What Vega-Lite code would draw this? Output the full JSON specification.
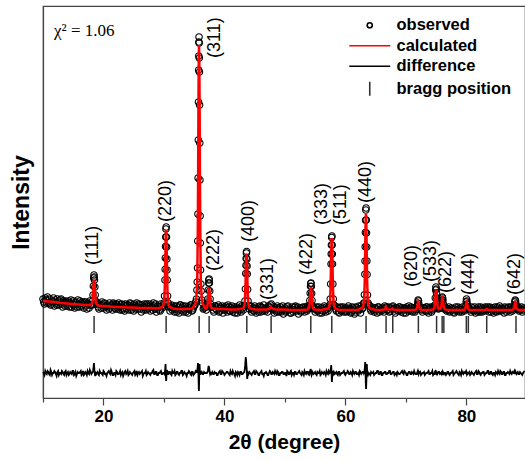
{
"$schema": "https://vega.github.io/schema/vega-lite/v6.json",
"width": 482, "height": 392,
"autosize": {"type": "none"},
"padding": {"left": 43, "top": 6, "right": 0, "bottom": 63},
"background": "white",
"config": {"view": {"stroke": "#444", "strokeWidth": 1.2}, "axis": {"grid": false, "domainColor": "#444", "domainWidth": 1.2, "tickColor": "#444", "tickWidth": 1.2, "labelColor": "black", "titleColor": "black", "labelFont": "Liberation Sans", "titleFont": "Liberation Sans"}},
"datasets": {
"scan": [
{"x":10,"o":99,"d":26},{"x":10.25,"o":94,"d":23},{"x":10.5,"o":98,"d":25},{"x":10.75,"o":101,"d":27},
{"x":11,"o":95,"d":24},{"x":11.25,"o":93,"d":28},{"x":11.5,"o":97,"d":23},{"x":11.75,"o":100,"d":25},
{"x":12,"o":98,"d":26},{"x":12.25,"o":93,"d":22},{"x":12.5,"o":97,"d":27},{"x":12.75,"o":95,"d":25},
{"x":13,"o":99,"d":24},{"x":13.25,"o":91,"d":26},{"x":13.5,"o":96,"d":23},{"x":13.75,"o":97,"d":27},
{"x":14,"o":92,"d":25},{"x":14.25,"o":97,"d":23},{"x":14.5,"o":95,"d":26},{"x":14.75,"o":91,"d":24},
{"x":15,"o":97,"d":27},{"x":15.25,"o":90,"d":24},{"x":15.5,"o":95,"d":22},{"x":15.75,"o":98,"d":26},
{"x":16,"o":91,"d":25},{"x":16.25,"o":95,"d":27},{"x":16.5,"o":96,"d":24},{"x":16.75,"o":90,"d":23},
{"x":17,"o":96,"d":26},{"x":17.25,"o":89,"d":23},{"x":17.5,"o":94,"d":25},{"x":17.75,"o":97,"d":28},
{"x":18,"o":93,"d":24},{"x":18.1,"o":93,"d":25},{"x":18.2,"o":97,"d":26},{"x":18.27,"o":103,"d":27},{"x":18.33,"o":112,"d":29},{"x":18.39,"o":120,"d":33},{"x":18.43,"o":123,"d":35},{"x":18.47,"o":121,"d":31},{"x":18.51,"o":118,"d":27},{"x":18.57,"o":111,"d":24},{"x":18.63,"o":103,"d":22},{"x":18.7,"o":97,"d":25},{"x":18.8,"o":94,"d":24},
{"x":19,"o":95,"d":26},{"x":19.25,"o":89,"d":23},{"x":19.5,"o":93,"d":25},{"x":19.75,"o":96,"d":24},
{"x":20,"o":90,"d":27},{"x":20.25,"o":94,"d":24},{"x":20.5,"o":88,"d":22},{"x":20.75,"o":93,"d":26},
{"x":21,"o":95,"d":25},{"x":21.25,"o":92,"d":28},{"x":21.5,"o":88,"d":23},{"x":21.75,"o":94,"d":25},
{"x":22,"o":89,"d":23},{"x":22.25,"o":93,"d":26},{"x":22.5,"o":95,"d":24},{"x":22.75,"o":88,"d":27},
{"x":23,"o":94,"d":25},{"x":23.25,"o":90,"d":22},{"x":23.5,"o":87,"d":26},{"x":23.75,"o":92,"d":24},
{"x":24,"o":93,"d":27},{"x":24.25,"o":88,"d":24},{"x":24.5,"o":94,"d":25},{"x":24.75,"o":91,"d":23},
{"x":25,"o":87,"d":26},{"x":25.25,"o":92,"d":23},{"x":25.5,"o":95,"d":27},{"x":25.75,"o":89,"d":25},
{"x":26,"o":93,"d":24},{"x":26.25,"o":86,"d":26},{"x":26.5,"o":91,"d":22},{"x":26.75,"o":94,"d":25},
{"x":27,"o":88,"d":27},{"x":27.25,"o":92,"d":24},{"x":27.5,"o":94,"d":25},{"x":27.75,"o":87,"d":23},
{"x":28,"o":91,"d":25},{"x":28.25,"o":95,"d":28},{"x":28.5,"o":89,"d":24},{"x":28.75,"o":86,"d":26},
{"x":29,"o":92,"d":23},{"x":29.25,"o":88,"d":25},{"x":29.5,"o":94,"d":27},{"x":29.75,"o":90,"d":24},
{"x":30,"o":95,"d":25},{"x":30.1,"o":102,"d":24},{"x":30.17,"o":118,"d":27},{"x":30.2,"o":128.6,"d":28},{"x":30.23,"o":140,"d":31},{"x":30.26,"o":151.5,"d":34},{"x":30.29,"o":161,"d":29},{"x":30.33,"o":169,"d":20},{"x":30.37,"o":171,"d":17},{"x":30.41,"o":161,"d":22},{"x":30.44,"o":151,"d":28},{"x":30.47,"o":139,"d":26},{"x":30.5,"o":128,"d":24},{"x":30.53,"o":118,"d":25},{"x":30.6,"o":102,"d":26},{"x":30.7,"o":95,"d":24},
{"x":30.75,"o":91,"d":24},
{"x":31,"o":87,"d":26},{"x":31.25,"o":93,"d":23},{"x":31.5,"o":90,"d":25},{"x":31.75,"o":86,"d":27},
{"x":32,"o":92,"d":24},{"x":32.25,"o":88,"d":26},{"x":32.5,"o":85,"d":23},{"x":32.75,"o":93,"d":25},
{"x":33,"o":90,"d":27},{"x":33.25,"o":86,"d":24},{"x":33.5,"o":92,"d":25},{"x":33.75,"o":89,"d":22},
{"x":34,"o":85,"d":25},{"x":34.25,"o":91,"d":26},{"x":34.5,"o":93,"d":23},{"x":34.75,"o":88,"d":26},
{"x":35,"o":92,"d":24},{"x":35.25,"o":96,"d":27},
{"x":35.45,"o":108,"d":26},{"x":35.5,"o":116,"d":27},{"x":35.55,"o":130,"d":29},{"x":35.59,"o":157,"d":32},{"x":35.62,"o":184,"d":35},{"x":35.65,"o":220,"d":33},{"x":35.68,"o":258,"d":28},{"x":35.71,"o":296,"d":22},{"x":35.74,"o":328,"d":15},{"x":35.76,"o":342,"d":9},{"x":35.78,"o":356,"d":7},{"x":35.8,"o":361,"d":12},{"x":35.82,"o":355,"d":18},{"x":35.84,"o":340,"d":27},{"x":35.86,"o":326,"d":32},{"x":35.89,"o":293,"d":34},{"x":35.92,"o":255,"d":30},{"x":35.95,"o":218,"d":26},{"x":35.98,"o":182,"d":23},{"x":36.01,"o":155,"d":25},{"x":36.05,"o":128,"d":27},{"x":36.1,"o":114,"d":24},{"x":36.15,"o":107,"d":25},
{"x":36.25,"o":98,"d":26},{"x":36.5,"o":89,"d":24},{"x":36.75,"o":91,"d":25},{"x":37,"o":88,"d":25},
{"x":37.1,"o":91,"d":25},{"x":37.2,"o":94,"d":26},{"x":37.27,"o":99,"d":27},{"x":37.33,"o":108,"d":30},{"x":37.39,"o":115,"d":32},{"x":37.43,"o":118,"d":31},{"x":37.47,"o":119,"d":30},{"x":37.51,"o":115,"d":28},{"x":37.57,"o":107,"d":26},{"x":37.63,"o":99,"d":24},{"x":37.7,"o":94,"d":25},{"x":37.8,"o":91,"d":24},
{"x":38,"o":91,"d":26},{"x":38.25,"o":86,"d":24},{"x":38.5,"o":92,"d":25},{"x":38.75,"o":88,"d":23},
{"x":39,"o":93,"d":25},{"x":39.25,"o":87,"d":27},{"x":39.5,"o":90,"d":24},{"x":39.75,"o":85,"d":26},
{"x":40,"o":90,"d":23},{"x":40.25,"o":92,"d":25},{"x":40.5,"o":86,"d":26},{"x":40.75,"o":91,"d":24},
{"x":41,"o":87,"d":27},{"x":41.25,"o":92,"d":24},{"x":41.5,"o":89,"d":25},{"x":41.75,"o":85,"d":22},
{"x":42,"o":91,"d":25},{"x":42.25,"o":88,"d":26},{"x":42.5,"o":93,"d":23},{"x":42.75,"o":86,"d":26},
{"x":43,"o":90,"d":24},{"x":43.25,"o":91,"d":26},
{"x":43.3,"o":92.5,"d":26},{"x":43.4,"o":97,"d":30},{"x":43.47,"o":109,"d":36},{"x":43.53,"o":124.5,"d":41},{"x":43.56,"o":132.6,"d":39},{"x":43.59,"o":139.5,"d":37},{"x":43.63,"o":145,"d":33},{"x":43.67,"o":146.5,"d":30},{"x":43.71,"o":139,"d":27},{"x":43.74,"o":132,"d":22},{"x":43.77,"o":124,"d":19},{"x":43.83,"o":108.5,"d":23},{"x":43.9,"o":97,"d":25},{"x":44,"o":92.5,"d":24},
{"x":44.25,"o":91,"d":25},{"x":44.5,"o":86,"d":23},{"x":44.75,"o":90,"d":26},
{"x":45,"o":92,"d":24},{"x":45.25,"o":85,"d":27},{"x":45.5,"o":89,"d":25},{"x":45.75,"o":91,"d":23},
{"x":46,"o":86,"d":26},{"x":46.25,"o":90,"d":24},{"x":46.5,"o":93,"d":22},{"x":46.75,"o":87,"d":25},
{"x":47,"o":89,"d":25},{"x":47.25,"o":92,"d":23},{"x":47.5,"o":91,"d":27},{"x":47.75,"o":94,"d":24},
{"x":48,"o":88,"d":26},{"x":48.25,"o":85,"d":24},{"x":48.5,"o":90,"d":25},{"x":48.75,"o":92,"d":27},
{"x":49,"o":86,"d":23},{"x":49.25,"o":91,"d":25},{"x":49.5,"o":88,"d":26},{"x":49.75,"o":84,"d":24},
{"x":50,"o":90,"d":25},{"x":50.25,"o":87,"d":22},{"x":50.5,"o":92,"d":26},{"x":50.75,"o":89,"d":24},
{"x":51,"o":85,"d":27},{"x":51.25,"o":91,"d":25},{"x":51.5,"o":88,"d":23},{"x":51.75,"o":92,"d":26},
{"x":52,"o":89,"d":24},{"x":52.25,"o":84,"d":26},{"x":52.5,"o":90,"d":25},{"x":52.75,"o":87,"d":23},
{"x":53,"o":91,"d":25},{"x":53.25,"o":86,"d":27},{"x":53.5,"o":89,"d":24},{"x":53.75,"o":92,"d":26},
{"x":53.95,"o":90,"d":25},{"x":54.05,"o":92,"d":24},{"x":54.12,"o":97.5,"d":27},{"x":54.18,"o":104.7,"d":26},{"x":54.24,"o":111.8,"d":29},{"x":54.28,"o":114.5,"d":28},{"x":54.32,"o":115,"d":27},{"x":54.36,"o":111.5,"d":25},{"x":54.42,"o":104.5,"d":23},{"x":54.48,"o":97.5,"d":24},{"x":54.55,"o":92,"d":26},{"x":54.65,"o":90,"d":25},
{"x":54.75,"o":89,"d":24},
{"x":55,"o":86,"d":26},{"x":55.25,"o":91,"d":23},{"x":55.5,"o":88,"d":25},{"x":55.75,"o":85,"d":27},
{"x":56,"o":90,"d":24},{"x":56.25,"o":87,"d":25},{"x":56.5,"o":92,"d":26},{"x":56.75,"o":86,"d":23},
{"x":57,"o":89,"d":25},{"x":57.25,"o":91,"d":27},
{"x":57.4,"o":93,"d":25},{"x":57.5,"o":99,"d":26},{"x":57.57,"o":114,"d":28},{"x":57.63,"o":134,"d":31},{"x":57.66,"o":144,"d":33},{"x":57.69,"o":153,"d":28},{"x":57.73,"o":160.5,"d":22},{"x":57.77,"o":162,"d":16},{"x":57.81,"o":153,"d":20},{"x":57.84,"o":144,"d":26},{"x":57.87,"o":134,"d":27},{"x":57.93,"o":114,"d":25},{"x":58,"o":99,"d":24},{"x":58.1,"o":93,"d":26},
{"x":58.25,"o":92,"d":24},{"x":58.5,"o":87,"d":26},{"x":58.75,"o":90,"d":23},
{"x":59,"o":85,"d":26},{"x":59.25,"o":91,"d":24},{"x":59.5,"o":88,"d":25},{"x":59.75,"o":86,"d":27},
{"x":60,"o":90,"d":23},{"x":60.25,"o":87,"d":25},{"x":60.5,"o":92,"d":26},{"x":60.75,"o":89,"d":24},
{"x":61,"o":86,"d":25},{"x":61.25,"o":90,"d":27},{"x":61.5,"o":84,"d":24},{"x":61.75,"o":91,"d":26},
{"x":62,"o":88,"d":24},{"x":62.25,"o":92,"d":23},{"x":62.5,"o":85,"d":26},{"x":62.75,"o":89,"d":25},
{"x":63,"o":94,"d":26},
{"x":63.05,"o":95,"d":25},{"x":63.15,"o":103.3,"d":27},{"x":63.22,"o":123.7,"d":30},{"x":63.25,"o":137,"d":33},{"x":63.28,"o":151.2,"d":36},{"x":63.31,"o":165.5,"d":31},{"x":63.34,"o":177.8,"d":24},{"x":63.38,"o":188,"d":14},{"x":63.42,"o":190,"d":9},{"x":63.46,"o":178,"d":15},{"x":63.49,"o":165,"d":22},{"x":63.52,"o":151,"d":30},{"x":63.55,"o":137,"d":34},{"x":63.58,"o":123.5,"d":29},{"x":63.65,"o":103,"d":25},{"x":63.75,"o":95,"d":23},
{"x":64,"o":92,"d":24},{"x":64.25,"o":87,"d":26},{"x":64.5,"o":89,"d":25},{"x":64.75,"o":86,"d":23},
{"x":65,"o":90,"d":25},{"x":65.25,"o":85,"d":27},{"x":65.5,"o":91,"d":24},{"x":65.75,"o":88,"d":26},
{"x":66,"o":87,"d":23},{"x":66.25,"o":89,"d":25},{"x":66.5,"o":92,"d":26},{"x":66.75,"o":91,"d":24},
{"x":67,"o":88,"d":25},{"x":67.25,"o":86,"d":27},{"x":67.5,"o":90,"d":24},{"x":67.75,"o":91,"d":25},
{"x":68,"o":89,"d":26},{"x":68.25,"o":85,"d":24},{"x":68.5,"o":90,"d":23},{"x":68.75,"o":87,"d":25},
{"x":69,"o":91,"d":24},{"x":69.25,"o":86,"d":26},{"x":69.5,"o":88,"d":25},{"x":69.75,"o":90,"d":27},
{"x":70,"o":85,"d":25},{"x":70.25,"o":89,"d":23},{"x":70.5,"o":92,"d":26},{"x":70.75,"o":87,"d":24},
{"x":71,"o":90,"d":26},{"x":71.25,"o":88,"d":24},{"x":71.5,"o":86,"d":25},
{"x":71.8,"o":89,"d":24},{"x":71.9,"o":92,"d":26},{"x":71.97,"o":95,"d":27},{"x":72.03,"o":98,"d":25},{"x":72.09,"o":97,"d":24},{"x":72.15,"o":94,"d":26},{"x":72.25,"o":90,"d":25},
{"x":72.5,"o":89,"d":23},{"x":72.75,"o":86,"d":25},
{"x":73,"o":90,"d":26},{"x":73.25,"o":87,"d":24},{"x":73.5,"o":91,"d":25},{"x":73.75,"o":85,"d":27},
{"x":74,"o":89,"d":24},{"x":74.25,"o":86,"d":25},{"x":74.5,"o":91,"d":23},
{"x":74.7,"o":90,"d":24},{"x":74.8,"o":93,"d":26},{"x":74.87,"o":100,"d":27},{"x":74.93,"o":108,"d":28},{"x":74.97,"o":111,"d":26},{"x":75.03,"o":109,"d":23},{"x":75.07,"o":105,"d":24},{"x":75.13,"o":100,"d":26},{"x":75.2,"o":93,"d":24},{"x":75.3,"o":90,"d":25},
{"x":75.5,"o":90,"d":26},
{"x":75.8,"o":90,"d":25},{"x":75.9,"o":93,"d":24},{"x":75.97,"o":98,"d":27},{"x":76.03,"o":101,"d":25},{"x":76.07,"o":100,"d":23},{"x":76.13,"o":98,"d":26},{"x":76.2,"o":94,"d":25},{"x":76.3,"o":90,"d":24},
{"x":76.5,"o":91,"d":25},{"x":76.75,"o":87,"d":24},
{"x":77,"o":89,"d":26},{"x":77.25,"o":86,"d":23},{"x":77.5,"o":90,"d":25},{"x":77.75,"o":88,"d":27},
{"x":78,"o":85,"d":24},{"x":78.25,"o":91,"d":26},{"x":78.5,"o":87,"d":25},{"x":78.75,"o":89,"d":23},
{"x":79,"o":90,"d":25},{"x":79.25,"o":86,"d":27},{"x":79.5,"o":88,"d":24},
{"x":79.8,"o":89,"d":25},{"x":79.9,"o":92,"d":26},{"x":79.97,"o":96,"d":27},{"x":80.03,"o":99,"d":26},{"x":80.09,"o":97,"d":24},{"x":80.15,"o":94,"d":25},{"x":80.25,"o":90,"d":24},
{"x":80.5,"o":89,"d":26},{"x":80.75,"o":86,"d":24},
{"x":81,"o":90,"d":25},{"x":81.25,"o":87,"d":23},{"x":81.5,"o":85,"d":26},{"x":81.75,"o":89,"d":24},
{"x":82,"o":91,"d":27},{"x":82.25,"o":86,"d":24},{"x":82.5,"o":88,"d":25},{"x":82.75,"o":90,"d":26},
{"x":83,"o":87,"d":23},{"x":83.25,"o":89,"d":25},{"x":83.5,"o":91,"d":27},{"x":83.75,"o":86,"d":24},
{"x":84,"o":90,"d":26},{"x":84.25,"o":88,"d":24},{"x":84.5,"o":85,"d":25},{"x":84.75,"o":91,"d":23},
{"x":85,"o":86,"d":25},{"x":85.25,"o":89,"d":27},{"x":85.5,"o":92,"d":24},{"x":85.75,"o":87,"d":26},
{"x":86,"o":89,"d":24},{"x":86.25,"o":85,"d":26},{"x":86.5,"o":90,"d":23},{"x":86.75,"o":88,"d":25},
{"x":87,"o":91,"d":25},{"x":87.25,"o":86,"d":27},{"x":87.5,"o":89,"d":24},
{"x":87.85,"o":89,"d":25},{"x":87.95,"o":92,"d":27},{"x":88.02,"o":96,"d":26},{"x":88.08,"o":98,"d":24},{"x":88.14,"o":97,"d":26},{"x":88.2,"o":94,"d":25},{"x":88.3,"o":90,"d":24},
{"x":88.5,"o":90,"d":26},{"x":88.75,"o":87,"d":24},
{"x":89,"o":89,"d":25},{"x":89.25,"o":86,"d":23},{"x":89.5,"o":90,"d":26},
{"x":10.125,"o":96,"d":25},{"x":10.375,"o":100,"d":27},{"x":10.625,"o":95,"d":24},{"x":10.875,"o":98,"d":26},
{"x":11.125,"o":99,"d":23},{"x":11.375,"o":94,"d":26},{"x":11.625,"o":96,"d":25},{"x":11.875,"o":92,"d":27},
{"x":12.125,"o":95,"d":24},{"x":12.375,"o":99,"d":26},{"x":12.625,"o":93,"d":23},{"x":12.875,"o":98,"d":25},
{"x":13.125,"o":94,"d":27},{"x":13.375,"o":97,"d":24},{"x":13.625,"o":92,"d":26},{"x":13.875,"o":95,"d":23},
{"x":14.125,"o":96,"d":26},{"x":14.375,"o":91,"d":24},{"x":14.625,"o":98,"d":25},{"x":14.875,"o":94,"d":27},
{"x":15.125,"o":93,"d":23},{"x":15.375,"o":96,"d":26},{"x":15.625,"o":91,"d":24},{"x":15.875,"o":94,"d":25},
{"x":16.125,"o":97,"d":26},{"x":16.375,"o":92,"d":23},{"x":16.625,"o":94,"d":27},{"x":16.875,"o":96,"d":24},
{"x":17.125,"o":92,"d":25},{"x":17.375,"o":95,"d":27},{"x":17.625,"o":90,"d":24},{"x":17.875,"o":93,"d":26},
{"x":18.875,"o":95,"d":25},
{"x":19.125,"o":91,"d":24},{"x":19.375,"o":94,"d":27},{"x":19.625,"o":90,"d":25},{"x":19.875,"o":93,"d":23},
{"x":20.125,"o":95,"d":26},{"x":20.375,"o":91,"d":24},{"x":20.625,"o":92,"d":25},{"x":20.875,"o":89,"d":27},
{"x":21.125,"o":90,"d":24},{"x":21.375,"o":93,"d":26},{"x":21.625,"o":95,"d":23},{"x":21.875,"o":90,"d":25},
{"x":22.125,"o":94,"d":27},{"x":22.375,"o":89,"d":24},{"x":22.625,"o":91,"d":25},{"x":22.875,"o":93,"d":23},
{"x":23.125,"o":88,"d":26},{"x":23.375,"o":93,"d":24},{"x":23.625,"o":94,"d":27},{"x":23.875,"o":89,"d":25},
{"x":24.125,"o":91,"d":23},{"x":24.375,"o":95,"d":26},{"x":24.625,"o":88,"d":24},{"x":24.875,"o":93,"d":25},
{"x":25.125,"o":94,"d":27},{"x":25.375,"o":89,"d":24},{"x":25.625,"o":91,"d":23},{"x":25.875,"o":94,"d":26},
{"x":26.125,"o":89,"d":25},{"x":26.375,"o":93,"d":27},{"x":26.625,"o":88,"d":24},{"x":26.875,"o":91,"d":25},
{"x":27.125,"o":94,"d":23},{"x":27.375,"o":89,"d":26},{"x":27.625,"o":91,"d":24},{"x":27.875,"o":93,"d":25},
{"x":28.125,"o":88,"d":27},{"x":28.375,"o":92,"d":24},{"x":28.625,"o":94,"d":26},{"x":28.875,"o":89,"d":23},
{"x":29.125,"o":91,"d":25},{"x":29.375,"o":87,"d":26},{"x":29.625,"o":92,"d":24},{"x":29.875,"o":92,"d":25},
{"x":30.875,"o":92,"d":26},
{"x":31.125,"o":91,"d":24},{"x":31.375,"o":88,"d":27},{"x":31.625,"o":92,"d":25},{"x":31.875,"o":89,"d":23},
{"x":32.125,"o":86,"d":26},{"x":32.375,"o":91,"d":24},{"x":32.625,"o":93,"d":25},{"x":32.875,"o":88,"d":27},
{"x":33.125,"o":92,"d":23},{"x":33.375,"o":88,"d":26},{"x":33.625,"o":86,"d":24},{"x":33.875,"o":91,"d":25},
{"x":34.125,"o":89,"d":27},{"x":34.375,"o":93,"d":24},{"x":34.625,"o":87,"d":26},{"x":34.875,"o":90,"d":23},
{"x":35.125,"o":93,"d":25},{"x":35.375,"o":99,"d":26},
{"x":36.375,"o":95,"d":24},{"x":36.625,"o":90,"d":26},{"x":36.875,"o":92,"d":25},
{"x":38.125,"o":88,"d":24},{"x":38.375,"o":92,"d":26},{"x":38.625,"o":89,"d":25},{"x":38.875,"o":91,"d":23},
{"x":39.125,"o":86,"d":26},{"x":39.375,"o":91,"d":24},{"x":39.625,"o":92,"d":27},{"x":39.875,"o":88,"d":25},
{"x":40.125,"o":88,"d":24},{"x":40.375,"o":90,"d":26},{"x":40.625,"o":93,"d":25},{"x":40.875,"o":87,"d":23},
{"x":41.125,"o":90,"d":25},{"x":41.375,"o":86,"d":27},{"x":41.625,"o":91,"d":24},{"x":41.875,"o":89,"d":26},
{"x":42.125,"o":85,"d":23},{"x":42.375,"o":90,"d":25},{"x":42.625,"o":88,"d":26},{"x":42.875,"o":92,"d":24},
{"x":43.125,"o":88,"d":25},
{"x":44.125,"o":89,"d":26},{"x":44.375,"o":92,"d":24},{"x":44.625,"o":88,"d":25},{"x":44.875,"o":87,"d":27},
{"x":45.125,"o":90,"d":24},{"x":45.375,"o":88,"d":26},{"x":45.625,"o":86,"d":23},{"x":45.875,"o":92,"d":25},
{"x":46.125,"o":91,"d":27},{"x":46.375,"o":87,"d":24},{"x":46.625,"o":89,"d":25},{"x":46.875,"o":90,"d":26},
{"x":47.125,"o":86,"d":23},{"x":47.375,"o":90,"d":25},{"x":47.625,"o":93,"d":26},{"x":47.875,"o":89,"d":24},
{"x":48.125,"o":91,"d":25},{"x":48.375,"o":88,"d":27},{"x":48.625,"o":86,"d":24},{"x":48.875,"o":90,"d":26},
{"x":49.125,"o":89,"d":23},{"x":49.375,"o":86,"d":25},{"x":49.625,"o":92,"d":26},{"x":49.875,"o":88,"d":24},
{"x":50.125,"o":86,"d":25},{"x":50.375,"o":91,"d":27},{"x":50.625,"o":88,"d":24},{"x":50.875,"o":85,"d":26},
{"x":51.125,"o":89,"d":23},{"x":51.375,"o":86,"d":25},{"x":51.625,"o":91,"d":26},{"x":51.875,"o":87,"d":24},
{"x":52.125,"o":91,"d":25},{"x":52.375,"o":88,"d":27},{"x":52.625,"o":86,"d":24},{"x":52.875,"o":90,"d":26},
{"x":53.125,"o":88,"d":23},{"x":53.375,"o":91,"d":25},{"x":53.625,"o":87,"d":26},{"x":53.875,"o":89,"d":24},
{"x":54.875,"o":90,"d":25},
{"x":55.125,"o":89,"d":24},{"x":55.375,"o":87,"d":26},{"x":55.625,"o":91,"d":25},{"x":55.875,"o":88,"d":23},
{"x":56.125,"o":85,"d":26},{"x":56.375,"o":90,"d":24},{"x":56.625,"o":88,"d":25},{"x":56.875,"o":91,"d":27},
{"x":57.125,"o":87,"d":24},
{"x":58.375,"o":89,"d":25},{"x":58.625,"o":91,"d":24},{"x":58.875,"o":86,"d":26},
{"x":59.125,"o":90,"d":23},{"x":59.375,"o":87,"d":25},{"x":59.625,"o":91,"d":26},{"x":59.875,"o":89,"d":24},
{"x":60.125,"o":86,"d":25},{"x":60.375,"o":90,"d":27},{"x":60.625,"o":88,"d":24},{"x":60.875,"o":85,"d":26},
{"x":61.125,"o":91,"d":23},{"x":61.375,"o":88,"d":25},{"x":61.625,"o":86,"d":26},{"x":61.875,"o":90,"d":24},
{"x":62.125,"o":87,"d":25},{"x":62.375,"o":89,"d":27},{"x":62.625,"o":92,"d":24},{"x":62.875,"o":90,"d":26},
{"x":63.875,"o":93,"d":25},
{"x":64.125,"o":89,"d":23},{"x":64.375,"o":91,"d":25},{"x":64.625,"o":88,"d":26},{"x":64.875,"o":90,"d":24},
{"x":65.125,"o":88,"d":25},{"x":65.375,"o":91,"d":27},{"x":65.625,"o":86,"d":24},{"x":65.875,"o":89,"d":26},
{"x":66.125,"o":90,"d":23},{"x":66.375,"o":86,"d":25},{"x":66.625,"o":90,"d":26},{"x":66.875,"o":88,"d":24},
{"x":67.125,"o":91,"d":25},{"x":67.375,"o":87,"d":27},{"x":67.625,"o":89,"d":24},{"x":67.875,"o":92,"d":26},
{"x":68.125,"o":87,"d":23},{"x":68.375,"o":90,"d":25},{"x":68.625,"o":88,"d":26},{"x":68.875,"o":91,"d":24},
{"x":69.125,"o":88,"d":25},{"x":69.375,"o":90,"d":27},{"x":69.625,"o":85,"d":24},{"x":69.875,"o":89,"d":26},
{"x":70.125,"o":91,"d":23},{"x":70.375,"o":87,"d":25},{"x":70.625,"o":89,"d":26},{"x":70.875,"o":91,"d":24},
{"x":71.125,"o":86,"d":25},{"x":71.375,"o":90,"d":27},{"x":71.625,"o":88,"d":24},
{"x":72.375,"o":91,"d":26},{"x":72.625,"o":88,"d":24},{"x":72.875,"o":90,"d":25},
{"x":73.125,"o":88,"d":23},{"x":73.375,"o":91,"d":25},{"x":73.625,"o":87,"d":26},{"x":73.875,"o":90,"d":24},
{"x":74.125,"o":91,"d":25},{"x":74.375,"o":88,"d":27},{"x":74.625,"o":89,"d":24},
{"x":75.375,"o":89,"d":26},{"x":75.625,"o":91,"d":24},
{"x":76.375,"o":89,"d":25},{"x":76.625,"o":90,"d":23},{"x":76.875,"o":88,"d":26},
{"x":77.125,"o":91,"d":24},{"x":77.375,"o":87,"d":25},{"x":77.625,"o":89,"d":26},{"x":77.875,"o":86,"d":23},
{"x":78.125,"o":89,"d":25},{"x":78.375,"o":88,"d":27},{"x":78.625,"o":91,"d":24},{"x":78.875,"o":86,"d":26},
{"x":79.125,"o":88,"d":23},{"x":79.375,"o":91,"d":25},{"x":79.625,"o":87,"d":26},
{"x":80.375,"o":90,"d":25},{"x":80.625,"o":88,"d":23},{"x":80.875,"o":91,"d":26},
{"x":81.125,"o":88,"d":24},{"x":81.375,"o":91,"d":25},{"x":81.625,"o":88,"d":27},{"x":81.875,"o":86,"d":24},
{"x":82.125,"o":89,"d":26},{"x":82.375,"o":91,"d":23},{"x":82.625,"o":86,"d":25},{"x":82.875,"o":88,"d":26},
{"x":83.125,"o":91,"d":24},{"x":83.375,"o":88,"d":25},{"x":83.625,"o":89,"d":27},{"x":83.875,"o":91,"d":24},
{"x":84.125,"o":86,"d":26},{"x":84.375,"o":90,"d":23},{"x":84.625,"o":88,"d":25},{"x":84.875,"o":87,"d":26},
{"x":85.125,"o":91,"d":24},{"x":85.375,"o":87,"d":25},{"x":85.625,"o":89,"d":27},{"x":85.875,"o":90,"d":24},
{"x":86.125,"o":88,"d":26},{"x":86.375,"o":91,"d":23},{"x":86.625,"o":86,"d":25},{"x":86.875,"o":90,"d":26},
{"x":87.125,"o":88,"d":24},{"x":87.375,"o":91,"d":25},{"x":87.625,"o":87,"d":26},
{"x":88.375,"o":89,"d":25},{"x":88.625,"o":91,"d":24},{"x":88.875,"o":88,"d":26},
{"x":89.125,"o":91,"d":24},{"x":89.375,"o":88,"d":25},{"x":89.625,"o":89,"d":27}
],
"calc": [
{"x":10,"c":97},{"x":11,"c":96.5},{"x":12,"c":96},{"x":13,"c":95},{"x":14,"c":94.5},{"x":15,"c":94},{"x":16,"c":93.5},{"x":17,"c":93},
{"x":17.85,"c":93},{"x":18,"c":93.5},{"x":18.15,"c":95},{"x":18.25,"c":100.2},{"x":18.3,"c":105.3},{"x":18.35,"c":111.6},{"x":18.4,"c":116.2},{"x":18.45,"c":118},{"x":18.5,"c":116.2},{"x":18.55,"c":111.6},{"x":18.6,"c":105.3},{"x":18.65,"c":100.2},{"x":18.75,"c":95},{"x":18.9,"c":93.5},{"x":19.05,"c":92.5},
{"x":20,"c":92},{"x":21,"c":91.5},{"x":22,"c":91},{"x":23,"c":91},{"x":24,"c":90.5},{"x":25,"c":90.5},{"x":26,"c":90},{"x":27,"c":90},{"x":28,"c":90},{"x":29,"c":89.5},
{"x":29.75,"c":91.1},{"x":29.9,"c":92.6},{"x":30.05,"c":97.4},{"x":30.15,"c":113.1},{"x":30.2,"c":128.8},{"x":30.25,"c":148.4},{"x":30.3,"c":162.5},{"x":30.35,"c":168},{"x":30.4,"c":162.5},{"x":30.45,"c":148.4},{"x":30.5,"c":128.8},{"x":30.55,"c":113.1},{"x":30.65,"c":97.4},{"x":30.8,"c":92.6},{"x":30.95,"c":91.1},
{"x":31.5,"c":89.5},{"x":32,"c":89},{"x":33,"c":89},{"x":34,"c":89},{"x":34.7,"c":89.5},
{"x":35.2,"c":94.3},{"x":35.35,"c":99.6},{"x":35.5,"c":115.4},{"x":35.6,"c":168.2},{"x":35.65,"c":221},{"x":35.7,"c":287},{"x":35.75,"c":334.5},{"x":35.8,"c":353},{"x":35.85,"c":334.5},{"x":35.9,"c":287},{"x":35.95,"c":221},{"x":36,"c":168.2},{"x":36.1,"c":115.4},{"x":36.25,"c":99.6},{"x":36.4,"c":94.3},
{"x":36.85,"c":89.4},{"x":37,"c":89.8},{"x":37.15,"c":91.1},{"x":37.25,"c":95.3},{"x":37.3,"c":99.5},{"x":37.35,"c":104.8},{"x":37.4,"c":108.5},{"x":37.45,"c":110},{"x":37.5,"c":108.5},{"x":37.55,"c":104.8},{"x":37.6,"c":99.5},{"x":37.65,"c":95.3},{"x":37.75,"c":91.1},{"x":37.9,"c":89.8},{"x":38.05,"c":89.4},
{"x":39,"c":89},{"x":40,"c":89},{"x":41,"c":88.5},{"x":42,"c":88.5},
{"x":43.05,"c":89.6},{"x":43.2,"c":90.7},{"x":43.35,"c":94.1},{"x":43.45,"c":105.3},{"x":43.5,"c":116.5},{"x":43.55,"c":130.5},{"x":43.6,"c":140.6},{"x":43.65,"c":144.5},{"x":43.7,"c":140.6},{"x":43.75,"c":130.5},{"x":43.8,"c":116.5},{"x":43.85,"c":105.3},{"x":43.95,"c":94.1},{"x":44.1,"c":90.7},{"x":44.25,"c":89.6},
{"x":45,"c":88.5},{"x":46,"c":88.5},{"x":47,"c":88.5},{"x":47.55,"c":89.5},{"x":47.7,"c":91},{"x":47.85,"c":89.5},{"x":48.5,"c":88.5},{"x":50,"c":88.5},{"x":51,"c":88},{"x":52,"c":88},{"x":53,"c":88},
{"x":53.7,"c":88.5},{"x":53.85,"c":88.9},{"x":54,"c":90.3},{"x":54.1,"c":94.9},{"x":54.15,"c":99.5},{"x":54.2,"c":105.3},{"x":54.25,"c":109.4},{"x":54.3,"c":111},{"x":54.35,"c":109.4},{"x":54.4,"c":105.3},{"x":54.45,"c":99.5},{"x":54.5,"c":94.9},{"x":54.6,"c":90.3},{"x":54.75,"c":88.9},{"x":54.9,"c":88.5},
{"x":56,"c":88},
{"x":57.15,"c":89.4},{"x":57.3,"c":90.9},{"x":57.45,"c":95.2},{"x":57.55,"c":109.6},{"x":57.6,"c":124},{"x":57.65,"c":142},{"x":57.7,"c":155},{"x":57.75,"c":160},{"x":57.8,"c":155},{"x":57.85,"c":142},{"x":57.9,"c":124},{"x":57.95,"c":109.6},{"x":58.05,"c":95.2},{"x":58.2,"c":90.9},{"x":58.35,"c":89.4},
{"x":59,"c":88},{"x":60,"c":88},{"x":61,"c":88},{"x":62,"c":88},
{"x":62.8,"c":89.9},{"x":62.95,"c":91.8},{"x":63.1,"c":97.6},{"x":63.2,"c":116.8},{"x":63.25,"c":136},{"x":63.3,"c":160},{"x":63.35,"c":177.3},{"x":63.4,"c":184},{"x":63.45,"c":177.3},{"x":63.5,"c":160},{"x":63.55,"c":136},{"x":63.6,"c":116.8},{"x":63.7,"c":97.6},{"x":63.85,"c":91.8},{"x":64,"c":89.9},
{"x":65,"c":88},{"x":66,"c":88},{"x":66.55,"c":88.8},{"x":66.7,"c":91},{"x":66.85,"c":88.8},{"x":67.65,"c":88.5},{"x":67.8,"c":89.5},{"x":67.95,"c":88.5},{"x":69,"c":88},{"x":70,"c":88},{"x":71,"c":88},
{"x":71.6,"c":88.3},{"x":71.75,"c":88.8},{"x":71.85,"c":90.4},{"x":71.9,"c":92},{"x":71.95,"c":94},{"x":72,"c":95.4},{"x":72.05,"c":96},{"x":72.1,"c":95.4},{"x":72.15,"c":94},{"x":72.2,"c":92},{"x":72.25,"c":90.4},{"x":72.35,"c":88.8},{"x":72.5,"c":88.3},
{"x":73,"c":88},{"x":74,"c":88},
{"x":74.4,"c":88.4},{"x":74.55,"c":88.8},{"x":74.7,"c":90},{"x":74.8,"c":94},{"x":74.85,"c":98},{"x":74.9,"c":103},{"x":74.95,"c":106.6},{"x":75,"c":108},{"x":75.05,"c":106.6},{"x":75.1,"c":103},{"x":75.15,"c":98},{"x":75.2,"c":94},{"x":75.3,"c":90},{"x":75.45,"c":88.8},{"x":75.6,"c":89.2},
{"x":75.75,"c":89.2},{"x":75.85,"c":91.6},{"x":75.9,"c":94},{"x":75.95,"c":97},{"x":76,"c":99.2},{"x":76.05,"c":100},{"x":76.1,"c":99.2},{"x":76.15,"c":97},{"x":76.2,"c":94},{"x":76.25,"c":91.6},{"x":76.35,"c":89.2},{"x":76.5,"c":88.5},{"x":76.65,"c":88.2},
{"x":77,"c":88},{"x":78,"c":88},{"x":79,"c":88},
{"x":79.6,"c":88.3},{"x":79.75,"c":88.8},{"x":79.85,"c":90.4},{"x":79.9,"c":92},{"x":79.95,"c":94},{"x":80,"c":95.4},{"x":80.05,"c":96},{"x":80.1,"c":95.4},{"x":80.15,"c":94},{"x":80.2,"c":92},{"x":80.25,"c":90.4},{"x":80.35,"c":88.8},{"x":80.5,"c":88.3},
{"x":81,"c":88},{"x":82,"c":88},{"x":83,"c":88},{"x":83.25,"c":88.3},{"x":83.4,"c":89},{"x":83.55,"c":88.3},{"x":84,"c":88},{"x":85,"c":88},{"x":86,"c":88},{"x":87,"c":88},
{"x":87.65,"c":88.3},{"x":87.8,"c":88.8},{"x":87.9,"c":90.4},{"x":87.95,"c":92},{"x":88,"c":94},{"x":88.05,"c":95.4},{"x":88.1,"c":96},{"x":88.15,"c":95.4},{"x":88.2,"c":94},{"x":88.25,"c":92},{"x":88.3,"c":90.4},{"x":88.4,"c":88.8},{"x":88.55,"c":88.3},
{"x":89,"c":88},{"x":89.7,"c":88}
],
"bragg": [
{"x":18.45},{"x":30.36},{"x":35.82},{"x":37.47},{"x":43.7},{"x":47.72},{"x":54.28},{"x":57.75},{"x":63.42},{"x":66.73},{"x":67.83},{"x":72.07},{"x":75.08},{"x":76.0},{"x":76.28},{"x":80.0},{"x":80.33},{"x":83.37},{"x":88.21}
],
"hkl": [
{"hkl":"(111)","x":18.3,"y":133},
{"hkl":"(220)","x":30.36,"y":176},
{"hkl":"(311)","x":38.5,"y":340},
{"hkl":"(222)","x":38.3,"y":127},
{"hkl":"(400)","x":44.0,"y":156},
{"hkl":"(331)","x":47.2,"y":98},
{"hkl":"(422)","x":53.7,"y":123},
{"hkl":"(333)","x":56.15,"y":173},
{"hkl":"(511)","x":59.3,"y":173},
{"hkl":"(440)","x":63.4,"y":195},
{"hkl":"(620)","x":71.0,"y":111},
{"hkl":"(533)","x":74.1,"y":116},
{"hkl":"(622)","x":76.65,"y":105},
{"hkl":"(444)","x":80.5,"y":103},
{"hkl":"(642)","x":88.05,"y":103}
],
"note": [{"t": "χ² = 1.06", "x": 11.82, "y": 362}]
},
"encoding": {
"x": {"field": "x", "type": "quantitative", "scale": {"domain": [10, 89.7], "nice": false, "zero": false},
 "axis": {"title": "2θ (degree)", "values": [10,20,30,40,50,60,70,80,90], "labelExpr": "datum.value % 20 === 0 ? datum.label : ''", "tickSize": {"condition": {"test": "datum.value % 20 === 0", "value": 7}, "value": 4}, "labelFontSize": 17, "labelFontWeight": "bold", "labelPadding": 3, "labelFlush": false, "labelOverlap": false, "titleFontSize": 21, "titleFontWeight": "bold", "titlePadding": 7}}
},
"layer": [
{"data": {"name": "scan"},
 "mark": {"type": "point", "filled": false, "size": 169, "strokeWidth": 1.1, "opacity": 1},
 "encoding": {
  "y": {"field": "o", "type": "quantitative", "scale": {"domain": [0, 392], "nice": false, "zero": false},
   "axis": {"title": "Intensity", "ticks": false, "labels": false, "titleFontSize": 23, "titleFontWeight": "bold", "titlePadding": 10}},
  "color": {"datum": "observed", "type": "nominal",
   "scale": {"domain": ["observed", "calculated", "difference", "bragg position"], "range": ["black", "#ff0000", "black", "#333333"]},
   "legend": {"title": null, "orient": "none", "legendX": 318.5, "legendY": 11, "padding": 0, "symbolSize": 105, "labelOffset": 18.5, "rowPadding": 3.5, "symbolStrokeWidth": 1.6,
     "labelFont": "Liberation Sans", "labelFontSize": 16.5, "labelFontWeight": "bold", "labelColor": "black"}},
  "shape": {"datum": "observed", "type": "nominal",
   "scale": {"domain": ["observed", "calculated", "difference", "bragg position"], "range": ["M-0.5,0A0.5,0.5 0 1,0 0.5,0A0.5,0.5 0 1,0 -0.5,0Z", "M-4,0H4", "M-4,0H4", "M0,-1.37V1.37"]},
   "legend": {"title": null, "orient": "none", "legendX": 318.5, "legendY": 11, "padding": 0, "symbolSize": 105, "labelOffset": 18.5, "rowPadding": 3.5, "symbolStrokeWidth": 1.6,
     "labelFont": "Liberation Sans", "labelFontSize": 16.5, "labelFontWeight": "bold", "labelColor": "black"}}
 }},
{"data": {"name": "calc"},
 "mark": {"type": "line", "color": "#ff0000", "strokeWidth": 2.5},
 "encoding": {"y": {"field": "c", "type": "quantitative", "axis": {"title": "Intensity", "ticks": false, "labels": false, "titleFontSize": 23, "titleFontWeight": "bold", "titlePadding": 10}}}},
{"data": {"name": "scan"},
 "mark": {"type": "line", "color": "black", "strokeWidth": 1.8},
 "encoding": {"y": {"field": "d", "type": "quantitative", "axis": {"title": "Intensity", "ticks": false, "labels": false, "titleFontSize": 23, "titleFontWeight": "bold", "titlePadding": 10}}}},
{"data": {"name": "bragg"},
 "mark": {"type": "rule", "color": "#333333", "strokeWidth": 1.5},
 "encoding": {"y": {"datum": 82, "type": "quantitative", "axis": {"title": "Intensity", "ticks": false, "labels": false, "titleFontSize": 23, "titleFontWeight": "bold", "titlePadding": 10}}, "y2": {"datum": 65}}},
{"data": {"name": "hkl"},
 "mark": {"type": "text", "angle": 270, "align": "left", "baseline": "middle", "font": "Liberation Sans", "fontSize": 18, "color": "black"},
 "encoding": {"y": {"field": "y", "type": "quantitative", "axis": {"title": "Intensity", "ticks": false, "labels": false, "titleFontSize": 23, "titleFontWeight": "bold", "titlePadding": 10}}, "text": {"field": "hkl"}}},
{"data": {"name": "note"},
 "mark": {"type": "text", "align": "left", "baseline": "alphabetic", "font": "Liberation Serif", "fontSize": 17, "color": "black"},
 "encoding": {
  "y": {"field": "y", "type": "quantitative", "axis": {"title": "Intensity", "ticks": false, "labels": false, "titleFontSize": 23, "titleFontWeight": "bold", "titlePadding": 10}},
  "text": {"field": "t"}}}
]
}
